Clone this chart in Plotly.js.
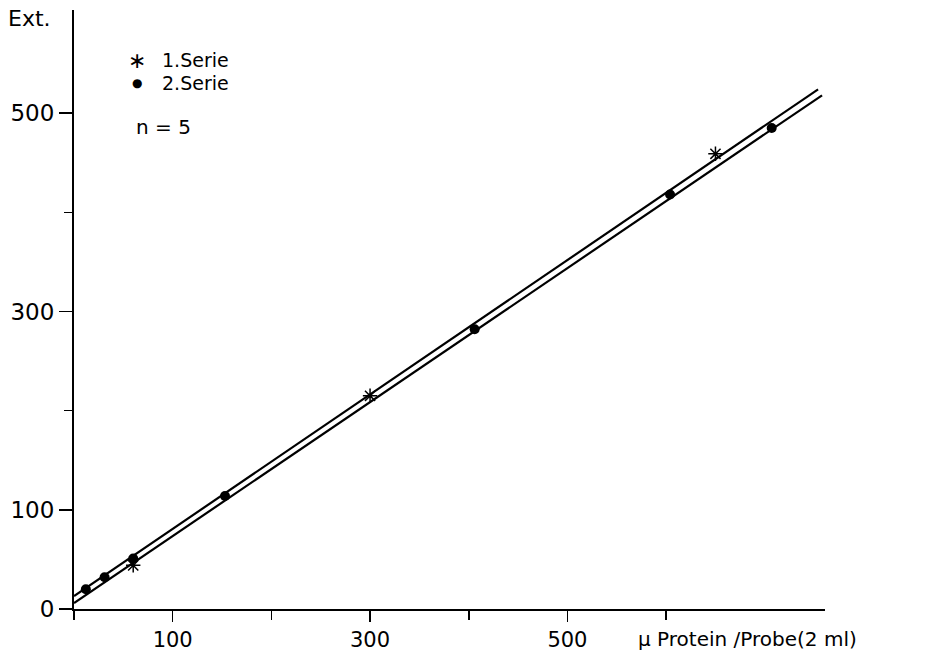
<!DOCTYPE html>
<html>
<head>
<meta charset="utf-8">
<script src="https://cdn.plot.ly/plotly-3.0.1.min.js"></script>
<style>html,body{margin:0;padding:0;background:#fff;}#chart{width:947px;height:659px;}</style>
</head>
<body>
<div id="chart"></div>
<script>
// Data
const serie1X = [60, 300, 650];
const serie1Y = [44, 215, 459];
const serie2X = [12, 31, 60, 153, 406, 604, 707];
const serie2Y = [20, 32, 51, 114, 282, 418, 485];
// fitted lines (endpoints)
const line1X = [0, 758];
const line1Y = [6, 518];
const line2X = [0, 754];
const line2Y = [13, 524];
const xTickVals = [100, 300, 500];
const xMinorVals = [0, 200, 400, 600];
const yTickVals = [0, 100, 300, 500];
const yMinorVals = [200, 400];

const FONT = 'DejaVu Sans, Liberation Sans, Arial, sans-serif';

const traces = [
  {x: line1X, y: line1Y, mode: 'lines', line: {color: '#000', width: 2.2}, showlegend: false, hoverinfo: 'skip'},
  {x: line2X, y: line2Y, mode: 'lines', line: {color: '#000', width: 2.2}, showlegend: false, hoverinfo: 'skip'},
  {x: serie1X, y: serie1Y, mode: 'markers', name: '1.Serie',
   marker: {symbol: 'asterisk-open', size: 12, color: '#000', line: {color: '#000', width: 1.5}}, showlegend: false},
  {x: serie2X, y: serie2Y, mode: 'markers', name: '2.Serie',
   marker: {symbol: 'circle', size: 10, color: '#000'}, showlegend: false}
];

const layout = {
  width: 947, height: 659,
  margin: {l: 74, r: 122, t: 10, b: 50},
  paper_bgcolor: '#fff', plot_bgcolor: '#fff',
  font: {family: FONT, color: '#000', size: 21},
  showlegend: false,
  xaxis: {
    range: [0, 761], showgrid: false, zeroline: false,
    showline: true, linecolor: '#000', linewidth: 2,
    tickmode: 'array', tickvals: xTickVals, ticktext: xTickVals.map(String),
    ticks: 'outside', ticklen: 11, tickwidth: 1.6, tickcolor: '#000',
    tickfont: {family: FONT, size: 21, color: '#000'},
    minor: {tickmode: 'array', tickvals: xMinorVals, ticks: 'outside', ticklen: 9, tickwidth: 1.6, tickcolor: '#000', showgrid: false}
  },
  yaxis: {
    range: [0, 604], showgrid: false, zeroline: false,
    showline: true, linecolor: '#000', linewidth: 2,
    tickmode: 'array', tickvals: yTickVals, ticktext: yTickVals.map(String),
    ticks: 'outside', ticklen: 13, tickwidth: 1.6, tickcolor: '#000',
    tickfont: {family: FONT, size: 23, color: '#000'},
    minor: {tickmode: 'array', tickvals: yMinorVals, ticks: 'outside', ticklen: 8, tickwidth: 1.6, tickcolor: '#000', showgrid: false}
  },
  annotations: [
    {text: 'Ext.', xref: 'paper', yref: 'paper', x: -0.09, y: 0.985, xanchor: 'left', yanchor: 'middle', showarrow: false, font: {family: FONT, size: 22, color: '#000'}},
    {text: '∗', xref: 'paper', yref: 'paper', x: 0.084, y: 0.9165, xanchor: 'center', yanchor: 'middle', showarrow: false, font: {family: FONT, size: 22, color: '#000'}},
    {text: '1.Serie', xref: 'paper', yref: 'paper', x: 0.1145, y: 0.9165, xanchor: 'left', yanchor: 'middle', showarrow: false, font: {family: FONT, size: 19, color: '#000'}},
    {text: '●', xref: 'paper', yref: 'paper', x: 0.084, y: 0.878, xanchor: 'center', yanchor: 'middle', showarrow: false, font: {family: FONT, size: 12, color: '#000'}},
    {text: '2.Serie', xref: 'paper', yref: 'paper', x: 0.1145, y: 0.878, xanchor: 'left', yanchor: 'middle', showarrow: false, font: {family: FONT, size: 19, color: '#000'}},
    {text: 'n = 5', xref: 'paper', yref: 'paper', x: 0.08, y: 0.805, xanchor: 'left', yanchor: 'middle', showarrow: false, font: {family: FONT, size: 20, color: '#000'}},
    {text: 'μ Protein /Probe(2 ml)', xref: 'paper', yref: 'paper', x: 0.748, y: -0.05, xanchor: 'left', yanchor: 'middle', showarrow: false, font: {family: FONT, size: 20, color: '#000'}}
  ]
};

Plotly.newPlot('chart', traces, layout, {displayModeBar: false, staticPlot: true});
</script>
</body>
</html>
